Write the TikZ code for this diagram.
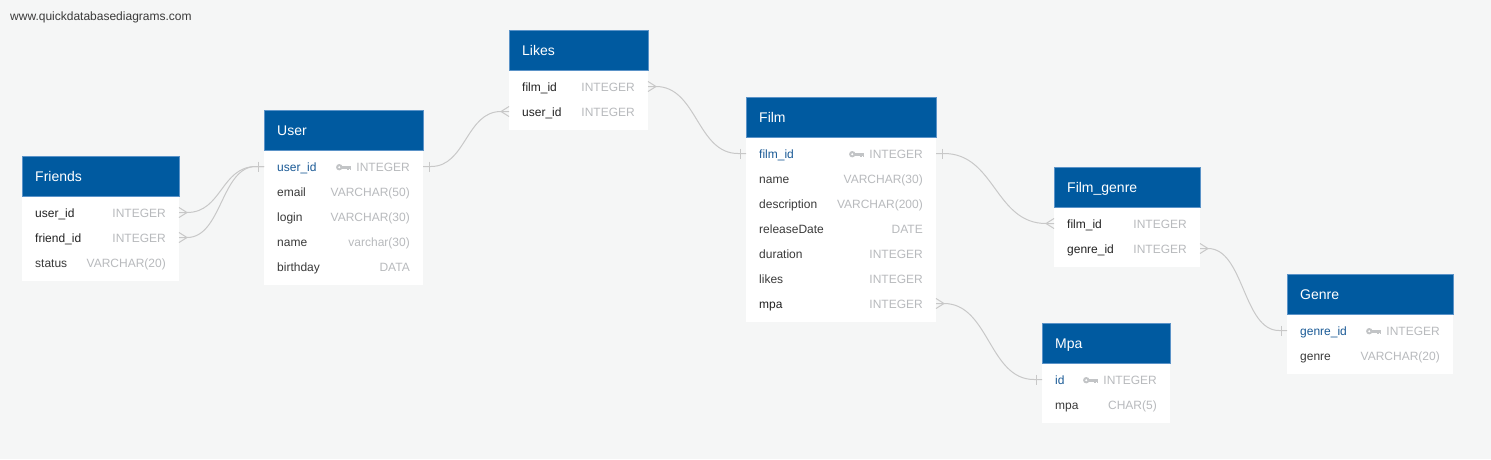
\documentclass[tikz,border=0pt]{standalone}
\usepackage{fontspec}
\setmainfont{Liberation Sans}
\usetikzlibrary{calc}
\definecolor{bg}{HTML}{F5F6F6}
\definecolor{hdrblue}{HTML}{005AA0}
\definecolor{hdredge}{HTML}{5B93C8}
\definecolor{pkblue}{HTML}{1A5A96}
\definecolor{fktext}{HTML}{222222}
\definecolor{coltext}{HTML}{3A3A3A}
\definecolor{typegray}{HTML}{B8BABD}
\definecolor{keygray}{HTML}{C2C4C6}
\definecolor{linegray}{HTML}{C8C8C8}
\tikzset{
  hdr/.style={fill=hdrblue, draw=hdredge, line width=0.5pt, minimum height=40, inner sep=0, outer sep=0, anchor=north west},
  titletext/.style={font=\fontsize{14}{16}\selectfont, text=white, inner sep=0, anchor=base west},
  rowbox/.style={minimum height=25, inner sep=0, outer sep=0, draw=none},
  pkname/.style={font=\fontsize{12}{14}\selectfont, text=pkblue, inner sep=0},
  fkname/.style={font=\fontsize{12}{14}\selectfont, text=fktext, inner sep=0},
  plainname/.style={font=\fontsize{12}{14}\selectfont, text=coltext, inner sep=0},
  typetext/.style={font=\fontsize{12}{14}\selectfont, text=typegray, inner sep=0},
  conn/.style={draw=linegray, line width=1pt},
  wmtext/.style={font=\fontsize{12}{14}\selectfont, text=coltext, inner sep=0, anchor=base west}
}
% #1 id, #2 left, #3 right, #4 top, #5 rows, #6 title
\newcommand\ertable[6]{%
  \fill[white] (#2,#4) rectangle (#3,#4+49.5+25*#5);
  \node[hdr, minimum width=#3-#2] (#1) at (#2,#4) {};
  \node[titletext] (#1-title) at (#2+13,#4+25.5) {#6};
}
% #1 id, #2 left, #3 right, #4 center y, #5 name, #6 type, #7 name style
\newcommand\errow[7]{%
  \node[rowbox, minimum width=#3-#2] (#1) at ({(#2+#3)/2},#4) {};
  \node[#7, anchor=base west] (#1-n) at (#2+13,#4+5) {#5};
  \node[typetext, anchor=base east] (#1-t) at (#3-13,#4+5) {#6};
}
% key icon left of the type text of row #1
\newcommand\erkey[1]{%
  \begin{scope}[shift={($(#1-t.base west)+(-5,-4.3)$)}]
    \fill[keygray] (-12,0) circle (3.2);
    \fill[white] (-12,0) circle (1.1);
    \fill[keygray] (-9.5,-1.4) rectangle (0,1.4);
    \fill[keygray] (-4.2,0) rectangle (-2.6,3.2);
    \fill[keygray] (-1.6,0) rectangle (0,3.2);
  \end{scope}
}
% crow's foot at #1, direction #2
\newcommand\crowfoot[2]{%
  \draw[conn] ($(#1)+(0,-5)$) -- ($(#1)+(#2*8,0)$) -- ($(#1)+(0,5)$);
}
\newcommand\onebar[2]{%
  \draw[conn] ($(#1)+(#2*6,-5)$) -- ($(#1)+(#2*6,5)$);
}
\begin{document}
\begin{tikzpicture}[x=1pt,y=-1pt]
\useasboundingbox (0,0) rectangle (1491,459);
\fill[bg] (0,0) rectangle (1491,459);
\node[wmtext] (wm) at (10,20) {www.quickdatabasediagrams.com};

% Friends
\ertable{fr}{22}{179}{156}{3}{Friends}
\errow{fr-uid}{22}{179}{212.5}{user\_id}{INTEGER}{fkname}
\errow{fr-fid}{22}{179}{237.5}{friend\_id}{INTEGER}{fkname}
\errow{fr-st}{22}{179}{262.5}{status}{VARCHAR(20)}{plainname}

% User
\ertable{us}{264}{423}{110}{5}{User}
\errow{us-uid}{264}{423}{166.5}{user\_id}{INTEGER}{pkname}
\erkey{us-uid}
\errow{us-em}{264}{423}{191.5}{email}{VARCHAR(50)}{plainname}
\errow{us-lo}{264}{423}{216.5}{login}{VARCHAR(30)}{plainname}
\errow{us-na}{264}{423}{241.5}{name}{varchar(30)}{plainname}
\errow{us-bd}{264}{423}{266.5}{birthday}{DATA}{plainname}

% Likes
\ertable{lk}{509}{648}{30}{2}{Likes}
\errow{lk-fid}{509}{648}{86.5}{film\_id}{INTEGER}{fkname}
\errow{lk-uid}{509}{648}{111.5}{user\_id}{INTEGER}{fkname}

% Film
\ertable{fi}{746}{936}{97}{7}{Film}
\errow{fi-fid}{746}{936}{153.5}{film\_id}{INTEGER}{pkname}
\erkey{fi-fid}
\errow{fi-na}{746}{936}{178.5}{name}{VARCHAR(30)}{plainname}
\errow{fi-de}{746}{936}{203.5}{description}{VARCHAR(200)}{plainname}
\errow{fi-rd}{746}{936}{228.5}{releaseDate}{DATE}{plainname}
\errow{fi-du}{746}{936}{253.5}{duration}{INTEGER}{plainname}
\errow{fi-li}{746}{936}{278.5}{likes}{INTEGER}{plainname}
\errow{fi-mpa}{746}{936}{303.5}{mpa}{INTEGER}{fkname}

% Film_genre
\ertable{fg}{1054}{1200}{167}{2}{Film\_genre}
\errow{fg-fid}{1054}{1200}{223.5}{film\_id}{INTEGER}{fkname}
\errow{fg-gid}{1054}{1200}{248.5}{genre\_id}{INTEGER}{fkname}

% Mpa
\ertable{mp}{1042}{1170}{323}{2}{Mpa}
\errow{mp-id}{1042}{1170}{379.5}{id}{INTEGER}{pkname}
\erkey{mp-id}
\errow{mp-mpa}{1042}{1170}{404.5}{mpa}{CHAR(5)}{plainname}

% Genre
\ertable{ge}{1287}{1453}{274}{2}{Genre}
\errow{ge-gid}{1287}{1453}{330.5}{genre\_id}{INTEGER}{pkname}
\erkey{ge-gid}
\errow{ge-ge}{1287}{1453}{355.5}{genre}{VARCHAR(20)}{plainname}

% connectors
\draw[conn] (fr-uid.east) -- ++(8,0) .. controls +(35,0) and +(-35,0) .. ($(us-uid.west)+(-8,0)$) -- (us-uid.west);
\draw[conn] (fr-fid.east) -- ++(8,0) .. controls +(35,0) and +(-35,0) .. ($(us-uid.west)+(-8,0)$) -- (us-uid.west);
\crowfoot{fr-uid.east}{1}
\crowfoot{fr-fid.east}{1}
\onebar{us-uid.west}{-1}

\draw[conn] (us-uid.east) -- ++(8,0) .. controls +(35,0) and +(-35,0) .. ($(lk-uid.west)+(-8,0)$) -- (lk-uid.west);
\onebar{us-uid.east}{1}
\crowfoot{lk-uid.west}{-1}

\draw[conn] (lk-fid.east) -- ++(8,0) .. controls +(41,0) and +(-41,0) .. ($(fi-fid.west)+(-8,0)$) -- (fi-fid.west);
\crowfoot{lk-fid.east}{1}
\onebar{fi-fid.west}{-1}

\draw[conn] (fi-fid.east) -- ++(8,0) .. controls +(51,0) and +(-51,0) .. ($(fg-fid.west)+(-8,0)$) -- (fg-fid.west);
\onebar{fi-fid.east}{1}
\crowfoot{fg-fid.west}{-1}

\draw[conn] (fi-mpa.east) -- ++(8,0) .. controls +(45,0) and +(-45,0) .. ($(mp-id.west)+(-8,0)$) -- (mp-id.west);
\crowfoot{fi-mpa.east}{1}
\onebar{mp-id.west}{-1}

\draw[conn] (fg-gid.east) -- ++(8,0) .. controls +(36,0) and +(-36,0) .. ($(ge-gid.west)+(-8,0)$) -- (ge-gid.west);
\crowfoot{fg-gid.east}{1}
\onebar{ge-gid.west}{-1}
\end{tikzpicture}
\end{document}
